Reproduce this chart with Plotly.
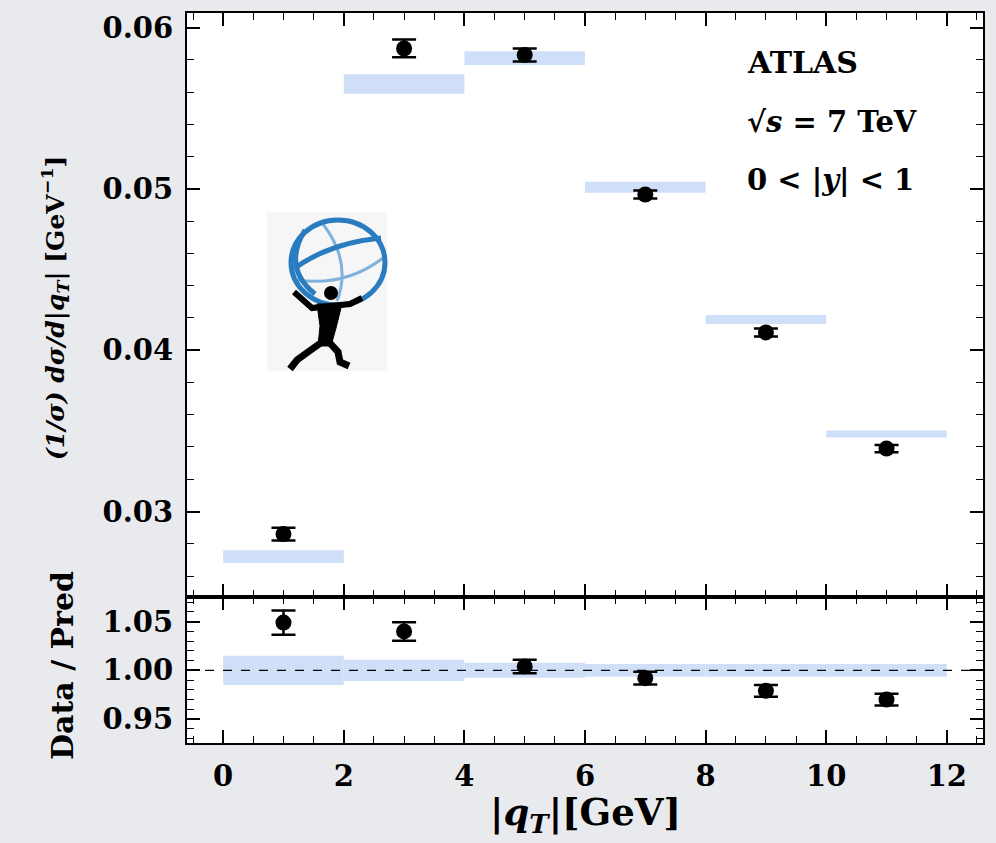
import plotly.graph_objects as go

# ---------------- data ----------------
bin_centers = [1, 3, 5, 7, 9, 11]
bin_width = 2

data_vals = [0.0286, 0.0587, 0.0583, 0.04965, 0.0411, 0.0339]
data_errs = [0.0004, 0.00055, 0.0004, 0.00025, 0.00025, 0.00022]

pred_vals = [0.0272, 0.0565, 0.0581, 0.0501, 0.0419, 0.0348]
pred_errs = [0.0004, 0.0006, 0.00043, 0.00034, 0.00028, 0.00022]

ratio_vals = [1.049, 1.040, 1.004, 0.992, 0.979, 0.970]
ratio_errs = [0.0125, 0.0095, 0.007, 0.0065, 0.006, 0.006]

ratio_band = [0.015, 0.011, 0.0077, 0.0065, 0.0065, 0.0065]

x_ticks = [0, 2, 4, 6, 8, 10, 12]
y_ticks_top = [0.03, 0.04, 0.05, 0.06]
y_ticks_bot = [0.95, 1.00, 1.05]

# ---------------- style ----------------
FONT = "DejaVu Serif"
BAND = "rgb(207,223,247)"
BG = "#e9eaed"

L, R, T, B = 187, 13, 13, 100
W, H = 996, 843
PW, PH = W - L - R, H - T - B


def px(x):
    return (x - L) / PW


def py(y):
    return (H - B - y) / PH


fig = go.Figure()

# prediction bands (top)
fig.add_trace(go.Bar(
    x=bin_centers, y=[2 * e for e in pred_errs],
    base=[v - e for v, e in zip(pred_vals, pred_errs)],
    width=[bin_width] * len(bin_centers),
    marker=dict(color=BAND, line=dict(width=0)),
    xaxis="x", yaxis="y", showlegend=False, hoverinfo="skip"))

# data points (top)
fig.add_trace(go.Scatter(
    x=bin_centers, y=data_vals, mode="markers",
    marker=dict(color="black", size=16),
    error_y=dict(type="data", array=data_errs, color="black",
                 thickness=2.5, width=12),
    xaxis="x", yaxis="y", showlegend=False))

# ratio bands (bottom)
fig.add_trace(go.Bar(
    x=bin_centers, y=[2 * e for e in ratio_band],
    base=[1 - e for e in ratio_band],
    width=[bin_width] * len(bin_centers),
    marker=dict(color=BAND, line=dict(width=0)),
    xaxis="x2", yaxis="y2", showlegend=False, hoverinfo="skip"))

# ratio points (bottom)
fig.add_trace(go.Scatter(
    x=bin_centers, y=ratio_vals, mode="markers",
    marker=dict(color="black", size=16),
    error_y=dict(type="data", array=ratio_errs, color="black",
                 thickness=2.5, width=12),
    xaxis="x2", yaxis="y2", showlegend=False))

axis_common = dict(
    showline=True, linecolor="black", linewidth=2, mirror="allticks",
    ticks="inside", ticklen=13, tickwidth=1.6, tickcolor="black",
    showgrid=False, zeroline=False,
    tickfont=dict(family=FONT, size=29, color="black", weight="bold"),
)
minor_common = dict(ticks="inside", ticklen=7, tickwidth=1.3, tickcolor="black")

fig.update_layout(
    width=W, height=H,
    margin=dict(l=L, r=R, t=T, b=B),
    paper_bgcolor=BG, plot_bgcolor="white",
    barmode="overlay",
    xaxis=dict(domain=[0, 1], anchor="y", range=[-0.6, 12.6],
               tickvals=x_ticks, showticklabels=False,
               minor=dict(dtick=0.5, **minor_common),
               **axis_common),
    yaxis=dict(domain=[0.2, 1], anchor="x", range=[0.0247, 0.0609],
               tickvals=y_ticks_top, ticktext=["0.03", "0.04", "0.05", "0.06"],
               minor=dict(dtick=0.002, **minor_common),
               ticklabelstandoff=6,
               **axis_common),
    xaxis2=dict(domain=[0, 1], anchor="y2", range=[-0.6, 12.6],
                matches="x", tickvals=x_ticks,
                minor=dict(dtick=0.5, **minor_common),
                ticklabelstandoff=6,
                **axis_common),
    yaxis2=dict(domain=[0, 0.2], anchor="x2", range=[0.9254, 1.0753],
                tickvals=y_ticks_bot, ticktext=["0.95", "1.00", "1.05"],
                minor=dict(dtick=0.01, **minor_common),
                ticklabelstandoff=6,
                **axis_common),
)

# reference line at ratio 1
fig.add_shape(type="line", xref="x2 domain", yref="y2",
              x0=0, x1=1, y0=1, y1=1,
              line=dict(color="black", width=1.2, dash="dash"))

# labels
tf = dict(family=FONT, color="black", weight="bold")
fig.add_annotation(x=px(745), y=py(62), xref="paper", yref="paper",
                   text="ATLAS", showarrow=False, xanchor="left", yanchor="middle",
                   font=dict(size=30, **tf))
fig.add_annotation(x=px(745), y=py(122), xref="paper", yref="paper",
                   text="√<i>s</i> = 7 TeV", showarrow=False, xanchor="left",
                   yanchor="middle", font=dict(size=29, **tf))
fig.add_annotation(x=px(745), y=py(180), xref="paper", yref="paper",
                   text="0 < |<i>y</i>| < 1", showarrow=False, xanchor="left",
                   yanchor="middle", font=dict(size=29, **tf))

fig.add_annotation(x=px(585), y=py(814), xref="paper", yref="paper",
                   text="|<i>q<sub>T</sub></i>|[GeV]", showarrow=False,
                   xanchor="center", yanchor="middle", font=dict(size=37, **tf))
fig.add_annotation(x=px(55), y=py(308), xref="paper", yref="paper",
                   text="<i>(1/σ) dσ/d|q<sub>T</sub>|</i> [GeV<sup>−1</sup>]",
                   showarrow=False, textangle=-90,
                   xanchor="center", yanchor="middle", font=dict(size=25, **tf))
fig.add_annotation(x=px(62), y=py(665), xref="paper", yref="paper",
                   text="Data / Pred", showarrow=False, textangle=-90,
                   xanchor="center", yanchor="middle", font=dict(size=30, **tf))

# ---- decorative ATLAS logo (approximation) ----
def P(pts):
    return " ".join(("M" if i == 0 else "L") + f"{px(a):.5f},{py(b):.5f}"
                    for i, (a, b) in enumerate(pts))


def Q(p0, c, p1):
    return (f"M{px(p0[0]):.5f},{py(p0[1]):.5f} Q{px(c[0]):.5f},{py(c[1]):.5f} "
            f"{px(p1[0]):.5f},{py(p1[1]):.5f}")


fig.add_shape(type="rect", xref="paper", yref="paper", layer="below",
              x0=px(267), x1=px(387), y0=py(371), y1=py(212),
              fillcolor="#f6f6f6", line=dict(width=0))
dark_blue = "#2a7cc0"
light_blue = "#7fb2dc"
fig.add_shape(type="path", xref="paper", yref="paper",
              path=Q((297, 280), (345, 287), (383, 258)),
              line=dict(color=light_blue, width=3))
fig.add_shape(type="path", xref="paper", yref="paper",
              path=Q((323, 224), (352, 262), (337, 301)),
              line=dict(color=light_blue, width=3))
fig.add_shape(type="circle", xref="paper", yref="paper",
              x0=px(291), x1=px(385), y0=py(305), y1=py(220),
              line=dict(color=dark_blue, width=5))
fig.add_shape(type="path", xref="paper", yref="paper",
              path=Q((295, 268), (330, 243), (381, 238)),
              line=dict(color=dark_blue, width=5))
fig.add_shape(type="path", xref="paper", yref="paper",
              path=Q((305, 230), (282, 268), (315, 294)),
              line=dict(color=dark_blue, width=5))
# silhouette
fig.add_shape(type="path", xref="paper", yref="paper",
              path=P([(294, 292), (312, 308), (330, 306), (350, 304), (362, 298)]),
              line=dict(color="black", width=6))
fig.add_shape(type="path", xref="paper", yref="paper",
              path=P([(317, 304), (342, 304), (336, 328), (331, 346),
                      (318, 346), (320, 326)]) + " Z",
              fillcolor="black", line=dict(color="black", width=1))
fig.add_shape(type="path", xref="paper", yref="paper",
              path=P([(322, 342), (308, 352), (297, 360), (290, 369)]),
              line=dict(color="black", width=7))
fig.add_shape(type="path", xref="paper", yref="paper",
              path=P([(329, 342), (338, 352), (340, 362), (349, 366)]),
              line=dict(color="black", width=7))
fig.add_shape(type="circle", xref="paper", yref="paper",
              x0=px(324), x1=px(338), y0=py(300), y1=py(286),
              fillcolor="black", line=dict(color="black", width=0))

fig.write_html("out.html")
